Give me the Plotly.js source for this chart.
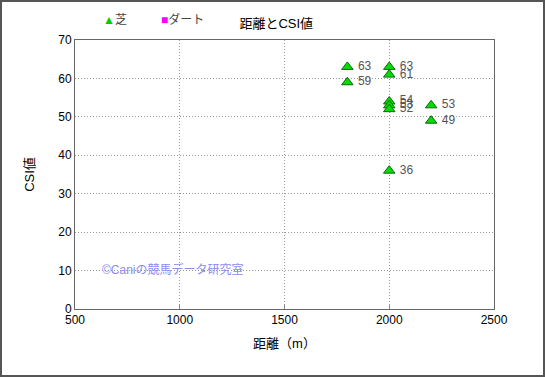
<!DOCTYPE html>
<html><head><meta charset="utf-8">
<script src="https://cdn.plot.ly/plotly-3.0.1.min.js"></script>
<style>html,body{margin:0;padding:0;background:#fff}#c{width:545px;height:377px;box-sizing:border-box;border:2px solid #555}</style>
</head><body><div id="c"></div>
<script>
const turfDistance = [1800, 1800, 2000, 2000, 2000, 2000, 2000, 2000, 2200, 2200];
const turfCSI = [63, 59, 63, 61, 54, 53, 52, 36, 53, 49];
const dirtDistance = [];
const dirtCSI = [];
const seriesNames = ['芝', 'ダート'];
const xTicks = [500, 1000, 1500, 2000, 2500];
const yTicks = [0, 10, 20, 30, 40, 50, 60, 70];
const F = '"Liberation Sans", "Noto Sans CJK JP", sans-serif';
const traces = [
  {x: turfDistance, y: turfCSI, name: seriesNames[0], type: 'scatter', mode: 'markers+text',
   text: turfCSI.map(v => ' ' + v), textposition: 'middle right',
   textfont: {family: F, size: 12, color: '#555'},
   marker: {symbol: 'triangle-up', size: 10, color: '#00dd00', line: {color: '#116611', width: 1}}},
  {x: dirtDistance, y: dirtCSI, name: seriesNames[1], type: 'scatter', mode: 'markers',
   marker: {symbol: 'square', size: 9, color: '#ff00ff'}}
];
const layout = {
  width: 541, height: 373,
  margin: {l: 73, r: 49, t: 38, b: 66},
  paper_bgcolor: '#fff', plot_bgcolor: '#fff',
  font: {family: F, size: 12, color: '#000'},
  title: {text: '距離とCSI値', x: 0.507, xanchor: 'center', y: 0.943, yanchor: 'middle', font: {family: F, size: 13, color: '#000'}},
  showlegend: false,
  xaxis: {range: [500, 2500], tickvals: xTicks, showgrid: true, gridcolor: '#999', griddash: '1px,2px', gridwidth: 1,
    showline: true, linecolor: '#666', mirror: true, ticks: 'inside', ticklen: 4, tickcolor: '#888', zeroline: false,
    tickfont: {family: F, size: 12}, title: {text: '距離（m）', font: {family: F, size: 13}, standoff: 12}},
  yaxis: {range: [0, 70], tickvals: yTicks, showgrid: true, gridcolor: '#999', griddash: '1px,2px', gridwidth: 1,
    showline: true, linecolor: '#666', mirror: true, ticks: '', zeroline: false,
    tickfont: {family: F, size: 12}, title: {text: 'CSI値', font: {family: F, size: 13}, standoff: 20}},
  annotations: [
    {xref: 'paper', yref: 'paper', x: 0.06, y: 0.145, xanchor: 'left', yanchor: 'middle', showarrow: false,
     text: '©Caniの競馬データ研究室', font: {family: F, size: 12, color: '#8c8cf0'}},
    {xref: 'paper', yref: 'paper', x: 0.063, y: 1.075, xanchor: 'left', yanchor: 'middle', showarrow: false,
     text: '<span style="color:#00cc00">▲</span>' + seriesNames[0], font: {family: F, size: 12, color: '#444'}},
    {xref: 'paper', yref: 'paper', x: 0.2, y: 1.075, xanchor: 'left', yanchor: 'middle', showarrow: false,
     text: '<span style="color:#ff00ff">■</span>' + seriesNames[1], font: {family: F, size: 12, color: '#444'}}
  ]
};
Plotly.newPlot('c', traces, layout, {displayModeBar: false, staticPlot: true});
</script></body></html>
